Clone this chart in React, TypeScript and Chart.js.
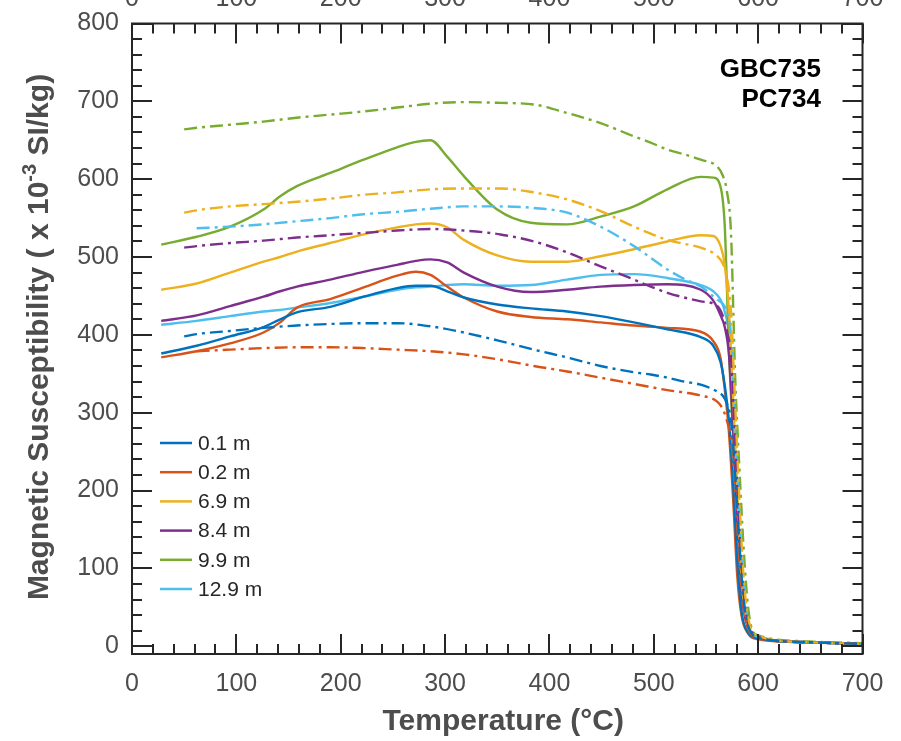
import React, { useEffect, useRef } from "react";
import { Chart, registerables } from "chart.js";

Chart.register(...registerables);

// ---------- axis ticks ----------
const xTickValues = [0, 100, 200, 300, 400, 500, 600, 700];
const yTickValues = [0, 100, 200, 300, 400, 500, 600, 700, 800];
const xMinorStep = 20;
const yMinorStep = 20;

// ---------- series meta ----------
const seriesLabels = ["0.1 m", "0.2 m", "6.9 m", "8.4 m", "9.9 m", "12.9 m"];
const seriesColors = ["#0072BD", "#D95319", "#EDB120", "#7E2F8E", "#77AC30", "#4DBEEE"];

// ---------- heating curves (solid) ----------
const heatTemps = [28, 62, 94, 126, 142, 158, 190, 222, 254, 272, 286, 302, 318, 350, 382, 417, 449, 481, 513, 545, 557, 564, 568, 572, 576, 580, 584, 590, 600, 650, 700];
const heat01 = [376, 386, 398, 410, 420, 429, 436, 449, 460, 463, 463, 456, 448, 439, 434, 430, 424, 416, 407, 397, 386, 365, 335, 290, 210, 110, 45, 18, 10, 5, 3];
const heat02 = [371, 379, 389, 403, 416, 435, 446, 461, 476, 481, 477, 462, 448, 430, 423, 420, 416, 412, 409, 404, 392, 370, 330, 275, 190, 90, 40, 17, 9, 5, 3];
const heat69 = [458, 466, 480, 494, 500, 507, 518, 529, 538, 542, 543, 538, 522, 502, 494, 494, 501, 510, 520, 528, 527, 514, 490, 430, 320, 200, 90, 28, 11, 5, 3];
const heat84 = [418, 425, 437, 449, 456, 462, 471, 481, 490, 495, 497, 493, 480, 462, 455, 458, 462, 464, 465, 458, 444, 425, 410, 375, 280, 160, 70, 25, 10, 5, 3];
const heat99 = [516, 526, 539, 561, 578, 591, 608, 625, 641, 648, 650, 629, 604, 561, 544, 542, 552, 565, 587, 603, 602, 590, 540, 380, 270, 170, 85, 30, 12, 5, 3];
const heat129 = [413, 418, 424, 430, 432, 435, 441, 449, 458, 461, 462, 464, 465, 463, 464, 471, 477, 478, 473, 464, 456, 445, 430, 400, 300, 170, 70, 25, 10, 5, 3];

// ---------- cooling curves (dash-dot) ----------
const coolTemps = [50, 62, 94, 126, 158, 190, 222, 254, 286, 318, 353, 385, 417, 449, 481, 497, 513, 529, 545, 561, 566, 570, 574, 578, 582, 586, 590, 594, 600, 650, 700];
const cool01 = [398, 401, 405, 409, 412, 414, 415, 415, 411, 403, 392, 381, 371, 360, 352, 349, 345, 340, 336, 327, 322, 312, 290, 220, 130, 60, 28, 16, 11, 5, 3];
const cool02 = [null, 379, 381, 383, 384, 384, 383, 381, 379, 375, 368, 360, 353, 345, 337, 333, 329, 326, 322, 314, 305, 290, 265, 200, 110, 50, 24, 14, 10, 5, 3];
const cool69 = [557, 560, 565, 568, 571, 575, 580, 583, 587, 588, 588, 583, 574, 559, 539, 530, 522, 517, 512, 501, 492, 475, 430, 310, 190, 90, 40, 20, 13, 5, 3];
const cool84 = [512, 514, 518, 521, 525, 528, 531, 534, 536, 534, 529, 520, 506, 488, 471, 462, 454, 448, 443, 437, 425, 405, 370, 260, 150, 70, 30, 18, 12, 5, 3];
const cool99 = [664, 666, 670, 674, 679, 683, 687, 692, 697, 699, 698, 696, 685, 672, 655, 647, 638, 632, 625, 616, 605, 585, 530, 345, 230, 128, 55, 22, 14, 6, 4];
const cool129 = [null, 537, 539, 542, 546, 550, 555, 558, 562, 565, 565, 563, 557, 539, 514, 499, 484, 472, 462, 445, 440, 430, 400, 290, 170, 80, 35, 18, 12, 5, 3];

const heatSeries = [heat01, heat02, heat69, heat84, heat99, heat129];
const coolSeries = [cool01, cool02, cool69, cool84, cool99, cool129];

const annotationLines = ["GBC735", "PC734"];
const xTitle = "Temperature (°C)";
const yTitleMain = "Magnetic Susceptibility ( x 10";
const yTitleSup = "-3";
const yTitleEnd = " SI/kg)";

const FONT = '"Liberation Sans", Arial, Helvetica, sans-serif';
const AXIS_COLOR = "#262626";
const LABEL_COLOR = "#4d4d4d";

function toPoints(xs: number[], ys: (number | null)[]) {
  const out: { x: number; y: number }[] = [];
  xs.forEach((x, i) => {
    const v = ys[i];
    if (v !== null && v !== undefined) out.push({ x, y: v });
  });
  return out;
}

const framePlugin = {
  id: "framePlugin",
  afterDatasetsDraw(chart: any) {
    const { ctx, chartArea: a, scales } = chart;
    const xs = scales.x;
    const ys = scales.y;
    ctx.save();
    ctx.strokeStyle = AXIS_COLOR;
    ctx.lineWidth = 2;
    ctx.beginPath();
    const xMin = xTickValues[0];
    const xMax = xTickValues[xTickValues.length - 1];
    for (let v = xMin; v <= xMax; v += xMinorStep) {
      const px = Math.round(xs.getPixelForValue(v));
      const len = v % 100 === 0 ? 20 : 10;
      ctx.moveTo(px, a.bottom);
      ctx.lineTo(px, a.bottom - len);
      ctx.moveTo(px, a.top);
      ctx.lineTo(px, a.top + len);
    }
    const yMin = yTickValues[0];
    const yMax = yTickValues[yTickValues.length - 1];
    for (let v = yMin; v <= yMax; v += yMinorStep) {
      const py = Math.round(ys.getPixelForValue(v));
      const len = v % 100 === 0 ? 20 : 10;
      ctx.moveTo(a.left, py);
      ctx.lineTo(a.left + len, py);
      ctx.moveTo(a.right, py);
      ctx.lineTo(a.right - len, py);
    }
    ctx.stroke();
    ctx.strokeRect(a.left, a.top, a.right - a.left, a.bottom - a.top);
    ctx.restore();
  },
  afterDraw(chart: any) {
    const { ctx, chartArea: a, scales } = chart;
    const xs = scales.x;
    const ys = scales.y;
    ctx.save();
    // tick labels
    ctx.fillStyle = LABEL_COLOR;
    ctx.font = `25px ${FONT}`;
    ctx.textAlign = "center";
    ctx.textBaseline = "middle";
    xTickValues.forEach((v) => {
      ctx.fillText(String(v), xs.getPixelForValue(v), 684);
    });
    // top labels (cut off)
    ctx.textBaseline = "alphabetic";
    xTickValues.forEach((v) => {
      ctx.fillText(String(v), xs.getPixelForValue(v), 6);
    });
    ctx.textAlign = "right";
    ctx.textBaseline = "middle";
    yTickValues.forEach((v) => {
      ctx.fillText(String(v), 119, ys.getPixelForValue(v));
    });

    // x title
    ctx.font = `bold 30px ${FONT}`;
    ctx.textAlign = "center";
    ctx.textBaseline = "alphabetic";
    ctx.fillText(xTitle, (a.left + a.right) / 2 + 6, 730);

    // y title with superscript
    const mainFont = `bold 30px ${FONT}`;
    const supFont = `bold 20px ${FONT}`;
    ctx.font = mainFont;
    const w1 = ctx.measureText(yTitleMain).width;
    const w3 = ctx.measureText(yTitleEnd).width;
    ctx.font = supFont;
    const w2 = ctx.measureText(yTitleSup).width;
    const total = w1 + w2 + w3;
    ctx.translate(48, 337);
    ctx.rotate(-Math.PI / 2);
    ctx.textAlign = "left";
    let cx = -total / 2;
    ctx.font = mainFont;
    ctx.fillText(yTitleMain, cx, 0);
    cx += w1;
    ctx.font = supFont;
    ctx.fillText(yTitleSup, cx, -12);
    cx += w2;
    ctx.font = mainFont;
    ctx.fillText(yTitleEnd, cx, 0);
    ctx.setTransform(1, 0, 0, 1, 0, 0);

    // annotation
    ctx.fillStyle = "#000000";
    ctx.font = `bold 26px ${FONT}`;
    ctx.textAlign = "right";
    ctx.textBaseline = "alphabetic";
    ctx.fillText(annotationLines[0], 821, 77);
    ctx.fillText(annotationLines[1], 821, 107);

    // legend
    ctx.font = `21px ${FONT}`;
    ctx.textAlign = "left";
    ctx.textBaseline = "middle";
    seriesLabels.forEach((lab, i) => {
      const yy = 443 + i * 29.2;
      ctx.strokeStyle = seriesColors[i];
      ctx.lineWidth = 2.5;
      ctx.beginPath();
      ctx.moveTo(160, yy);
      ctx.lineTo(192, yy);
      ctx.stroke();
      ctx.fillStyle = "#262626";
      ctx.fillText(lab, 198, yy + 1);
    });
    ctx.restore();
  },
};

export default function App() {
  const ref = useRef<HTMLCanvasElement | null>(null);
  useEffect(() => {
    const canvas = ref.current;
    if (!canvas) return;
    const datasets: any[] = [];
    coolSeries.forEach((s, i) => {
      datasets.push({
        label: seriesLabels[i] + " cooling",
        data: toPoints(coolTemps, s),
        borderColor: seriesColors[i],
        borderWidth: 2.4,
        borderDash: [13, 5, 3, 5],
        pointRadius: 0,
        fill: false,
        cubicInterpolationMode: "monotone",
      });
    });
    heatSeries.forEach((s, i) => {
      datasets.push({
        label: seriesLabels[i],
        data: toPoints(heatTemps, s),
        borderColor: seriesColors[i],
        borderWidth: 2.4,
        pointRadius: 0,
        fill: false,
        cubicInterpolationMode: "monotone",
      });
    });
    const chart = new Chart(canvas, {
      type: "line",
      data: { datasets },
      options: {
        animation: false,
        responsive: false,
        devicePixelRatio: 1,
        layout: { padding: { left: 132, right: 38.5, top: 23.5, bottom: 87 } },
        scales: {
          x: { type: "linear", min: 0, max: 700, display: false },
          y: { type: "linear", min: -10, max: 800, display: false },
        },
        plugins: {
          legend: { display: false },
          tooltip: { enabled: false },
        },
      },
      plugins: [framePlugin],
    });
    return () => chart.destroy();
  }, []);
  return (
    <div style={{ position: "fixed", left: 0, top: 0, width: 901, height: 741, background: "#fff" }}>
      <canvas ref={ref} width={901} height={741} style={{ width: 901, height: 741, display: "block" }} />
    </div>
  );
}
